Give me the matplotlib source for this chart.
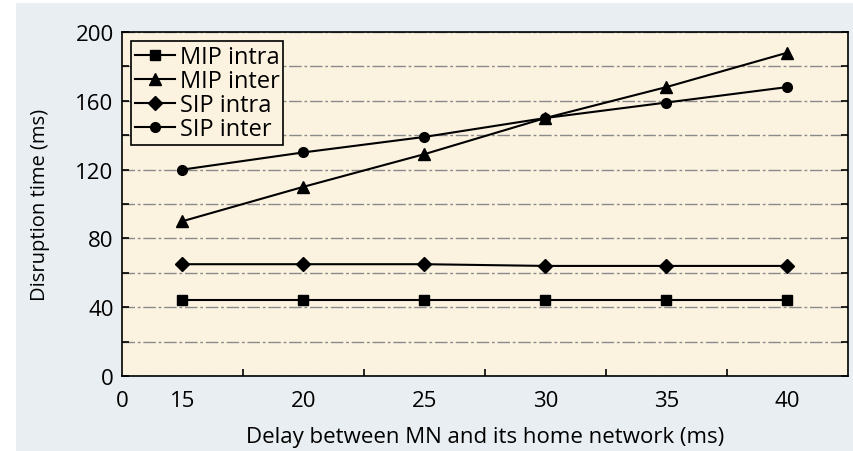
import matplotlib.pyplot as plt
from matplotlib.patches import Rectangle

plt.rcParams['font.family'] = ['Open Sans', 'DejaVu Sans']

# data
delay = [15, 20, 25, 30, 35, 40]
mip_intra = [44, 44, 44, 44, 44, 44]
mip_inter = [90, 110, 129, 150, 168, 188]
sip_intra = [65, 65, 65, 64, 64, 64]
sip_inter = [120, 130, 139, 150, 159, 168]

xtick_pos = [12.5, 15, 20, 25, 30, 35, 40]
xtick_labels = ['0', '15', '20', '25', '30', '35', '40']

fig = plt.figure(figsize=(8.54, 4.52), dpi=100, facecolor='white')
# grey panel behind the chart
fig.patches.append(Rectangle((16 / 854, 0), 1, 1 - 4 / 452, transform=fig.transFigure,
                             facecolor='#e9eef2', edgecolor='none', zorder=-1))
ax = fig.add_axes([122 / 854, 1 - 377 / 452, 726 / 854, 344 / 452])
ax.set_facecolor('#fcf2e0')

ax.plot(delay, mip_intra, color='black', lw=1.5, marker='s', ms=7, label='MIP intra')
ax.plot(delay, mip_inter, color='black', lw=1.5, marker='^', ms=8, label='MIP inter')
ax.plot(delay, sip_intra, color='black', lw=1.5, marker='D', ms=7, label='SIP intra')
ax.plot(delay, sip_inter, color='black', lw=1.5, marker='o', ms=7, label='SIP inter')

ax.set_xlim(12.5, 42.5)
ax.set_ylim(0, 200)

# category-style x axis: labels at points, tick marks between them
ax.set_xticks(xtick_pos)
ax.set_xticklabels(xtick_labels)
ax.set_xticks([17.5, 22.5, 27.5, 32.5, 37.5], minor=True)
ax.tick_params(axis='x', which='major', length=0, pad=10, labelsize=16)
ax.tick_params(axis='x', which='minor', direction='in', length=5, width=1.2)

ax.set_yticks(range(0, 201, 40))
ax.set_yticks(range(20, 200, 40), minor=True)
ax.tick_params(axis='y', which='both', direction='in', length=5, width=1.2,
               right=True, labelsize=16, pad=6)
ax.grid(axis='y', which='both', color='#8a8a8a', lw=1, linestyle=(0, (9, 2, 2, 2)))

for s in ax.spines.values():
    s.set_linewidth(1.2)

ax.set_xlabel('Delay between MN and its home network (ms)', fontsize=16, labelpad=11)
ax.set_ylabel('Disruption time (ms)', fontsize=14.5, labelpad=18)

leg = ax.legend(loc='upper left', fontsize=17, frameon=True, fancybox=False,
                borderpad=0.15, labelspacing=0.0, handlelength=1.7, handletextpad=0.2,
                borderaxespad=0.4)
leg.get_frame().set_edgecolor('black')
leg.get_frame().set_linewidth(1.2)
leg.get_frame().set_facecolor('#fcf2e0')
leg.get_frame().set_alpha(1)

fig.savefig('out.png', dpi=100, facecolor=fig.get_facecolor())
